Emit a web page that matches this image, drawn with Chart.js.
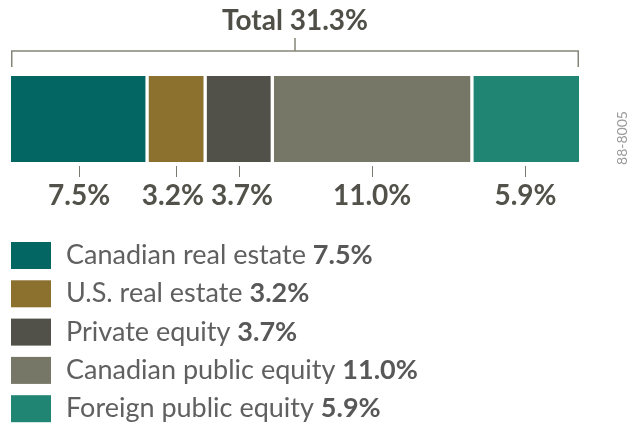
<!DOCTYPE html>
<html>
<head>
<meta charset="utf-8">
<script src="https://cdn.jsdelivr.net/npm/chart.js@4/dist/chart.umd.min.js"></script>
<style>
  html, body { margin: 0; padding: 0; background: #fff; }
  #chart { display: block; }
</style>
</head>
<body>
<canvas id="chart" width="630" height="424"></canvas>
<script>
// chart data
const categories = ['Canadian real estate', 'U.S. real estate', 'Private equity', 'Canadian public equity', 'Foreign public equity'];
const shares = [7.5, 3.2, 3.7, 11.0, 5.9];
const colors = ['#036663', '#8b702e', '#51514a', '#777767', '#218574'];
const totalLabel = 'Total';
const chartCode = '88-8005';

const total = shares.reduce((a, b) => a + b, 0);
const fmt = v => v.toFixed(1) + '%';
const FONT = 'Lato, "Noto Sans", sans-serif';

const annotations = {
    id: 'annotations',
    afterDraw(chart) {
        const ctx = chart.ctx;
        const x = chart.scales.x;
        const area = chart.chartArea;
        ctx.save();

        // bracket + total
        const mid = (area.left + area.right) / 2;
        ctx.strokeStyle = '#85857a';
        ctx.lineWidth = 1.5;
        ctx.beginPath();
        ctx.moveTo(area.left + 0.75, 67);
        ctx.lineTo(area.left + 0.75, 51);
        ctx.lineTo(area.right - 0.75, 51);
        ctx.lineTo(area.right - 0.75, 67);
        ctx.moveTo(mid, 51);
        ctx.lineTo(mid, 38);
        ctx.stroke();

        ctx.fillStyle = '#4f4f48';
        ctx.font = 'bold 28px ' + FONT;
        ctx.textAlign = 'center';
        ctx.textBaseline = 'alphabetic';
        ctx.fillText(totalLabel + ' ' + fmt(total), mid, 29.5);

        // value labels under the bar: ticks at segment centres,
        // labels pushed apart where they would touch
        ctx.font = 'bold 28px ' + FONT;
        let cum = 0;
        const marks = shares.map(v => {
            const cx = x.getPixelForValue(cum + v / 2);
            cum += v;
            return { cx, lx: cx, w: ctx.measureText(fmt(v)).width, text: fmt(v) };
        });
        for (let i = 1; i < marks.length; i++) {
            const a = marks[i - 1], b = marks[i];
            const overlap = (a.lx + a.w / 2 + 7) - (b.lx - b.w / 2);
            if (overlap > 0) { a.lx -= overlap / 2; b.lx += overlap / 2; }
        }
        ctx.strokeStyle = '#7a7a72';
        ctx.lineWidth = 1;
        ctx.fillStyle = '#52524b';
        marks.forEach(m => {
            const tx = Math.round(m.cx) + 0.5;
            ctx.beginPath();
            ctx.moveTo(tx, area.bottom + 4);
            ctx.lineTo(tx, area.bottom + 15);
            ctx.stroke();
            ctx.fillText(m.text, m.lx, 204.5);
        });

        // legend
        ctx.textAlign = 'left';
        categories.forEach((name, i) => {
            const top = 242 + i * 38.3;
            ctx.fillStyle = colors[i];
            ctx.fillRect(11, top, 40, 27);
            ctx.font = '27px ' + FONT;
            ctx.fillStyle = '#606060';
            ctx.fillText(name + ' ', 66, top + 22);
            const w = ctx.measureText(name + ' ').width;
            ctx.font = 'bold 27px ' + FONT;
            ctx.fillStyle = '#585858';
            ctx.fillText(fmt(shares[i]), 66 + w, top + 22);
        });

        // chart code, vertical
        ctx.translate(627, 138);
        ctx.rotate(-Math.PI / 2);
        ctx.textAlign = 'center';
        ctx.font = '14px ' + FONT;
        ctx.fillStyle = '#9a9a9a';
        ctx.fillText(chartCode, 0, 0);
        ctx.restore();
    }
};

const last = shares.length - 1;
new Chart(document.getElementById('chart'), {
    type: 'bar',
    data: {
        labels: [totalLabel],
        datasets: categories.map((name, i) => ({
            label: name,
            data: [shares[i]],
            backgroundColor: colors[i],
            borderColor: '#ffffff',
            borderWidth: { left: i > 0 ? 2 : 0, right: i < last ? 2 : 0, top: 0, bottom: 0 },
            borderSkipped: false,
            barPercentage: 1,
            categoryPercentage: 1
        }))
    },
    options: {
        indexAxis: 'y',
        responsive: false,
        devicePixelRatio: 1,
        animation: false,
        layout: { padding: { left: 11, right: 51, top: 76, bottom: 262 } },
        scales: {
            x: { stacked: true, min: 0, max: total, display: false },
            y: { stacked: true, display: false }
        },
        plugins: {
            legend: { display: false },
            tooltip: { enabled: false }
        }
    },
    plugins: [annotations]
});
</script>
</body>
</html>
